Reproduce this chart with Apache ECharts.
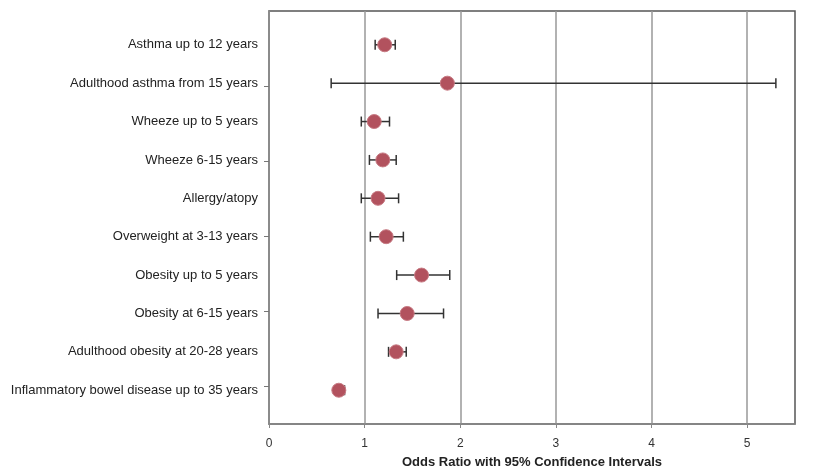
<!DOCTYPE html>
<html>
<head>
<meta charset="utf-8">
<script src="https://cdn.jsdelivr.net/npm/echarts@6/dist/echarts.min.js"></script>
<style>html,body{margin:0;padding:0;background:#fff}#c{width:823px;height:474px}</style>
</head>
<body>
<div id="c"></div>
<script>
var categories = [
  'Asthma up to 12 years',
  'Adulthood asthma from 15 years',
  'Wheeze up to 5 years',
  'Wheeze 6-15 years',
  'Allergy/atopy',
  'Overweight at 3-13 years',
  'Obesity up to 5 years',
  'Obesity at 6-15 years',
  'Adulthood obesity at 20-28 years',
  'Inflammatory bowel disease up to 35 years'
];
var oddsRatio = [1.21, 1.865, 1.10, 1.19, 1.14, 1.225, 1.595, 1.445, 1.33, 0.73];
var ciLow     = [1.11, 0.65, 0.965, 1.05, 0.965, 1.06, 1.335, 1.14, 1.25, 0.70];
var ciHigh    = [1.32, 5.30, 1.26, 1.33, 1.355, 1.405, 1.89, 1.825, 1.435, 0.79];
var xTicks = [0, 1, 2, 3, 4, 5];

var rows = categories.map(function (c, i) { return i + 1; });
var pointData = oddsRatio.map(function (v, i) { return [v, rows[i]]; });
var errData = oddsRatio.map(function (v, i) { return [ciLow[i], ciHigh[i], rows[i]]; });

var chart = echarts.init(document.getElementById('c'), null, {renderer: 'canvas'});
chart.setOption({
  animation: false,
  backgroundColor: '#fff',
  grid: {left: 269, top: 11, right: 28, bottom: 47, show: true, borderColor: '#555', borderWidth: 1.5, backgroundColor: 'transparent'},
  xAxis: {
    type: 'value', min: 0, max: 5.5, interval: 1,
    name: 'Odds Ratio with 95% Confidence Intervals',
    nameLocation: 'middle', nameGap: 32,
    nameTextStyle: {fontFamily: 'Liberation Sans', fontWeight: 'bold', fontSize: 13, color: '#222'},
    axisLine: {show: true, lineStyle: {color: '#888', width: 1.5}},
    axisTick: {show: true, length: 4, customValues: xTicks, lineStyle: {color: '#888', width: 1}},
    axisLabel: {
      customValues: xTicks,
      fontFamily: 'Liberation Sans', fontSize: 12, color: '#333', margin: 14,
      formatter: function (v) { return String(v); }
    },
    splitLine: {show: true, lineStyle: {color: '#999', width: 1.5}}
  },
  yAxis: {
    type: 'value', inverse: true, min: 0.12, max: 10.88,
    axisLine: {show: true, lineStyle: {color: '#888', width: 1.5}},
    axisTick: {show: true, length: 5, customValues: [2.08, 4.04, 6, 7.94, 9.9], lineStyle: {color: '#777', width: 1}},
    axisLabel: {
      customValues: rows,
      fontFamily: 'Liberation Sans', fontSize: 13, color: '#222', margin: 11,
      formatter: function (v) { return categories[Math.round(v) - 1] || ''; }
    },
    splitLine: {show: false}
  },
  series: [
    {
      type: 'custom',
      data: errData,
      z: 2,
      renderItem: function (params, api) {
        var y = api.value(2);
        var a = api.coord([api.value(0), y]);
        var b = api.coord([api.value(1), y]);
        var h = 5;
        var st = {stroke: '#333', lineWidth: 1.5};
        return {
          type: 'group',
          children: [
            {type: 'line', shape: {x1: a[0], y1: a[1], x2: b[0], y2: b[1]}, style: st},
            {type: 'line', shape: {x1: a[0], y1: a[1] - h, x2: a[0], y2: a[1] + h}, style: st},
            {type: 'line', shape: {x1: b[0], y1: b[1] - h, x2: b[0], y2: b[1] + h}, style: st}
          ]
        };
      }
    },
    {
      type: 'scatter',
      data: pointData,
      z: 3,
      symbol: 'circle',
      symbolSize: 14,
      itemStyle: {color: '#b2525e', borderColor: '#c77a83', borderWidth: 1, opacity: 1}
    }
  ]
});
</script>
</body>
</html>
